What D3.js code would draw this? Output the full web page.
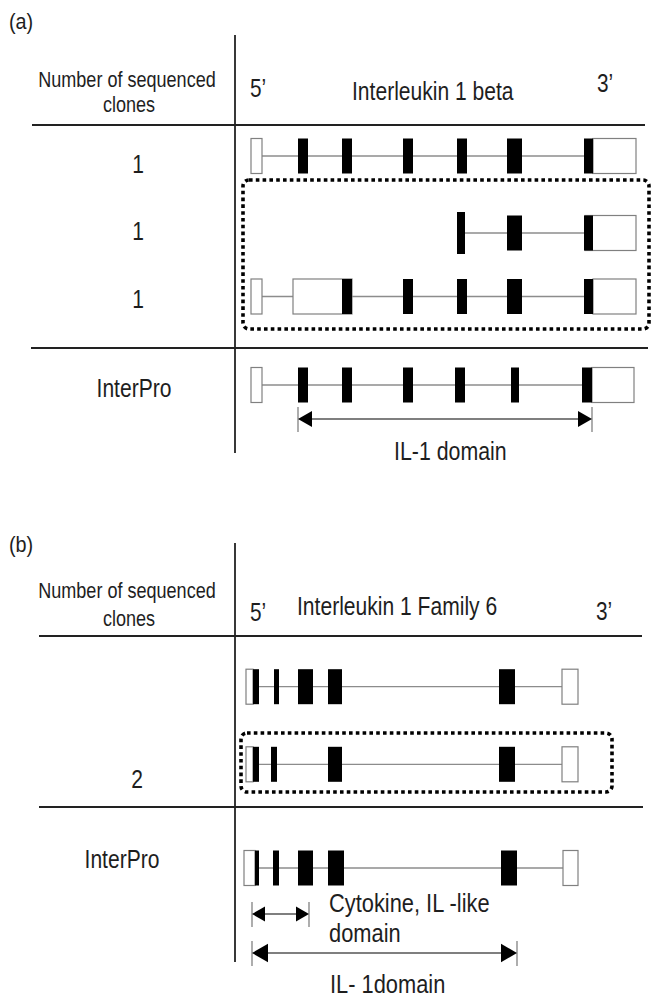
<!DOCTYPE html>
<html>
<head>
<meta charset="utf-8">
<script src="https://cdn.jsdelivr.net/npm/d3@7"></script>
<style>
  body { margin: 0; background: #fff; }
  svg { display: block; }
  text { font-family: "Liberation Sans", Arial, sans-serif; fill: #1e1e1e; }
</style>
</head>
<body>
<svg></svg>
<script>
const width = 653;
const height = 998;

// transcript features: [start, end, kind]
// kind: "u" = open (UTR) box, "e" = coding exon, "E" = tall coding exon
// positions are drawing units along the gene, 5' end at 0

// (a) Interleukin 1 beta
const il1bRows = ["clone1", "clone2", "clone3", "interpro"];
const il1bLabels = ["1", "1", "1", "InterPro"];
const il1bClone1 = [[6, 17, "u"], [53, 63, "e"], [97, 107, "e"], [158, 168, "e"], [212, 222, "e"], [262, 277, "e"], [339, 348, "e"], [348, 391, "u"]];
const il1bClone2 = [[212, 220, "E"], [262, 277, "e"], [340, 391, "u"], [339, 348, "e"]];
const il1bClone3 = [[6, 17, "u"], [48, 107, "u"], [97, 107, "e"], [158, 168, "e"], [212, 222, "e"], [262, 277, "e"], [339, 348, "e"], [348, 391, "u"]];
const il1bInterPro = [[6, 17, "u"], [53, 63, "e"], [97, 107, "e"], [158, 168, "e"], [210, 220, "e"], [266, 274, "e"], [337, 347, "e"], [347, 389, "u"]];
const il1bDomains = [{ start: 53, end: 347, label: ["IL-1 domain"] }];

// (b) Interleukin 1 Family 6
const il1f6Rows = ["clone1", "clone2", "interpro"];
const il1f6Labels = ["", "2", "InterPro"];
const il1f6Clone1 = [[1, 8, "u"], [8, 14, "e"], [29, 34, "e"], [53, 68, "e"], [83, 97, "e"], [254, 270, "e"], [317, 333, "u"]];
const il1f6Clone2 = [[1, 8, "u"], [8, 14, "e"], [26, 32, "e"], [83, 97, "e"], [254, 270, "e"], [317, 333, "u"]];
const il1f6InterPro = [[-1, 10, "u"], [10, 14, "e"], [28, 34, "e"], [53, 68, "e"], [83, 99, "e"], [256, 272, "e"], [318, 333, "u"]];
const il1f6Domains = [
    { start: 7, end: 64, label: ["Cytokine, IL -like", "domain"] },
    { start: 7, end: 272, label: ["IL- 1domain"] }
];

const svg = d3.select("svg")
    .attr("width", width)
    .attr("height", height);

// gene coordinate -> page x, shared by both panels
const x = d3.scaleLinear().domain([0, 400]).range([245, 645]);

const boxH = 35;
const big = 26;   // row labels, titles
const small = 22; // column header

// squeeze text horizontally, the original uses a narrow face
function narrow(sel, k) {
    sel.each(function () {
        const w = this.getComputedTextLength();
        d3.select(this).attr("textLength", w * k).attr("lengthAdjust", "spacingAndGlyphs");
    });
}

function addText(g, str, tx, ty, size, anchor, k) {
    const t = g.append("text")
        .attr("x", tx)
        .attr("y", ty)
        .attr("font-size", size)
        .attr("text-anchor", anchor || "start")
        .text(str);
    if (k) narrow(t, k);
    return t;
}

function drawTranscript(g, feats, cy) {
    const lo = d3.min(feats, d => d[0]);
    const hi = d3.max(feats, d => d[1]);
    g.append("line")
        .attr("x1", x(lo)).attr("x2", x(hi))
        .attr("y1", cy).attr("y2", cy)
        .attr("stroke", "#8c8c8c")
        .attr("stroke-width", 1.3);

    g.selectAll(null)
        .data(feats.filter(d => d[2] == "u"))
        .enter().append("rect")
        .attr("x", d => x(d[0]))
        .attr("width", d => x(d[1]) - x(d[0]))
        .attr("y", cy - boxH / 2)
        .attr("height", boxH)
        .attr("fill", "#fff")
        .attr("stroke", "#808080")
        .attr("stroke-width", 1.2);

    g.selectAll(null)
        .data(feats.filter(d => d[2] != "u"))
        .enter().append("rect")
        .attr("x", d => x(d[0]))
        .attr("width", d => x(d[1]) - x(d[0]))
        .attr("y", d => cy - (d[2] == "E" ? 42 : boxH) / 2)
        .attr("height", d => d[2] == "E" ? 42 : boxH)
        .attr("fill", "#000");
}

function drawDomain(g, dom, cy, head) {
    const x1 = x(dom.start), x2 = x(dom.end);
    g.append("line")
        .attr("x1", x1 + head).attr("x2", x2 - head)
        .attr("y1", cy).attr("y2", cy)
        .attr("stroke", "#555")
        .attr("stroke-width", 1.5);
    [x1, x2].forEach(px => {
        g.append("line")
            .attr("x1", px).attr("x2", px)
            .attr("y1", cy - 12).attr("y2", cy + 13)
            .attr("stroke", "#777")
            .attr("stroke-width", 1.2);
    });
    const hw = head * 0.58;
    g.append("path")
        .attr("d", `M${x1},${cy}L${x1 + head},${cy - hw}L${x1 + head},${cy + hw}Z`)
        .attr("fill", "#000");
    g.append("path")
        .attr("d", `M${x2},${cy}L${x2 - head},${cy - hw}L${x2 - head},${cy + hw}Z`)
        .attr("fill", "#000");
}

function frame(g, lines) {
    lines.forEach(l => {
        g.append("line")
            .attr("x1", l[0]).attr("y1", l[1])
            .attr("x2", l[2]).attr("y2", l[3])
            .attr("stroke", "#222")
            .attr("stroke-width", 1.8);
    });
}

function dottedBox(g, x0, y0, x1, y1) {
    g.append("rect")
        .attr("x", x0).attr("y", y0)
        .attr("width", x1 - x0).attr("height", y1 - y0)
        .attr("rx", 6)
        .attr("fill", "none")
        .attr("stroke", "#000")
        .attr("stroke-width", 3.6)
        .attr("stroke-dasharray", "3.6,3.2");
}

// ---------- panel (a) ----------
const ga = svg.append("g");
const ya = d3.scaleOrdinal().domain(il1bRows).range([156, 233, 296.5, 385]);

addText(ga, "(a)", 9, 29, 22, "start", 0.9);
frame(ga, [[235, 35, 235, 453], [32, 125, 645, 125], [31, 348, 648, 348]]);
addText(ga, "Number of sequenced", 127, 87, small, "middle", 0.82);
addText(ga, "clones", 129, 112, small, "middle", 0.82);
addText(ga, "5\u2019", 250, 97, big, "start", 0.8);
addText(ga, "Interleukin 1 beta", 352, 100, big, "start", 0.81);
addText(ga, "3\u2019", 597, 92, big, "start", 0.8);

const labelYa = [173, 240, 308, 397];
const labelXa = [138, 138, 138, 134];
il1bLabels.forEach((s, i) => addText(ga, s, labelXa[i], labelYa[i], big, "middle", 0.81));

dottedBox(ga, 243, 180, 649, 329);
[il1bClone1, il1bClone2, il1bClone3, il1bInterPro].forEach((f, i) => drawTranscript(ga, f, ya(il1bRows[i])));

drawDomain(ga, il1bDomains[0], 419, 14);
addText(ga, il1bDomains[0].label[0], 394, 460, big, "start", 0.82);

// ---------- panel (b) ----------
const gb = svg.append("g");
const yb = d3.scaleOrdinal().domain(il1f6Rows).range([686.7, 764.3, 868]);

addText(gb, "(b)", 9, 552, 22, "start", 0.9);
frame(gb, [[235, 543, 235, 962], [39, 636, 642, 636], [39, 807, 643, 807]]);
addText(gb, "Number of sequenced", 127, 598, small, "middle", 0.82);
addText(gb, "clones", 129, 626, small, "middle", 0.82);
addText(gb, "5\u2019", 250, 621, big, "start", 0.8);
addText(gb, "Interleukin 1 Family 6", 297, 615, big, "start", 0.81);
addText(gb, "3\u2019", 596, 620, big, "start", 0.8);

const labelYb = [0, 788, 868];
const labelXb = [0, 137, 122];
il1f6Labels.forEach((s, i) => { if (s) addText(gb, s, labelXb[i], labelYb[i], big, "middle", 0.81); });

dottedBox(gb, 241, 733, 612, 792);
[il1f6Clone1, il1f6Clone2, il1f6InterPro].forEach((f, i) => drawTranscript(gb, f, yb(il1f6Rows[i])));

drawDomain(gb, il1f6Domains[0], 914, 13);
drawDomain(gb, il1f6Domains[1], 953, 16);
addText(gb, il1f6Domains[0].label[0], 329, 912, big, "start", 0.84);
addText(gb, il1f6Domains[0].label[1], 329, 942, big, "start", 0.84);
addText(gb, il1f6Domains[1].label[0], 330, 993, big, "start", 0.84);
</script>
</body>
</html>
